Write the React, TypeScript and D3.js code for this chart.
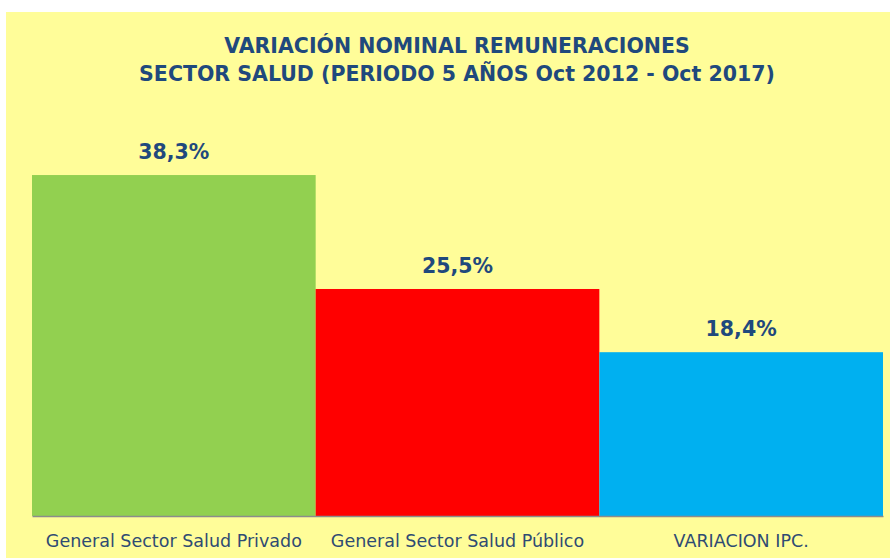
import { useRef, useEffect } from 'react';
import * as d3 from 'd3';

// Chart data
const categories = ['General Sector Salud Privado', 'General Sector Salud Público', 'VARIACION IPC.'];
const values = [38.3, 25.5, 18.4];
const barColors = ['#92D050', '#FF0000', '#00B0F0'];
const titleLines = ['VARIACIÓN NOMINAL REMUNERACIONES', 'SECTOR SALUD (PERIODO 5 AÑOS Oct 2012 - Oct 2017)'];
const yDomain = [0, 45];

const fmt = (v: number) => `${v.toFixed(1).replace('.', ',')}%`;

export default function App() {
  const svgRef = useRef<SVGSVGElement | null>(null);
  const width = 890;
  const height = 558;
  const margin = { top: 115.4, right: 7, bottom: 42, left: 32 };
  const textColor = '#1F497D';
  const font = '"DejaVu Sans", sans-serif';

  useEffect(() => {
    if (!svgRef.current) return;
    const svg = d3.select(svgRef.current);
    svg.selectAll('*').remove();

    const innerW = width - margin.left - margin.right;
    const innerH = height - margin.top - margin.bottom;

    // background panel
    svg.append('rect')
      .attr('x', 6).attr('y', 12)
      .attr('width', width - 6).attr('height', height - 12)
      .attr('fill', '#FFFD99');

    // title
    svg.append('g')
      .selectAll('text')
      .data(titleLines)
      .join('text')
      .attr('x', 457)
      .attr('y', (_, i) => 53 + i * 28)
      .attr('text-anchor', 'middle')
      .attr('font-family', font)
      .attr('font-weight', 'bold')
      .attr('font-size', 20.5)
      .attr('fill', textColor)
      .text((d) => d);

    const x = d3.scaleBand().domain(categories).range([0, innerW]).padding(0);
    const y = d3.scaleLinear().domain(yDomain).range([innerH, 0]);

    const g = svg.append('g').attr('transform', `translate(${margin.left},${margin.top})`);

    g.selectAll('rect.bar')
      .data(values)
      .join('rect')
      .attr('class', 'bar')
      .attr('x', (_, i) => x(categories[i])!)
      .attr('width', x.bandwidth())
      .attr('y', (d) => y(d))
      .attr('height', (d) => innerH - y(d))
      .attr('fill', (_, i) => barColors[i]);

    // value labels
    g.selectAll('text.val')
      .data(values)
      .join('text')
      .attr('class', 'val')
      .attr('x', (_, i) => x(categories[i])! + x.bandwidth() / 2)
      .attr('y', (d) => y(d) - 16)
      .attr('text-anchor', 'middle')
      .attr('font-family', font)
      .attr('font-weight', 'bold')
      .attr('font-size', 20.5)
      .attr('fill', textColor)
      .text((d) => fmt(d));

    // x axis
    const xAxis = g.append('g')
      .attr('transform', `translate(0,${innerH})`)
      .call(d3.axisBottom(x).tickSize(0).tickPadding(18.5));
    xAxis.select('.domain').attr('stroke', '#8C8C8C').attr('stroke-width', 1.5);
    xAxis.selectAll('text')
      .attr('font-family', font)
      .attr('font-size', 17.5)
      .attr('fill', '#2F4B73');
  }, []);

  return (
    <svg
      ref={svgRef}
      width={width}
      height={height}
      style={{ display: 'block', position: 'absolute', left: 0, top: 0, background: '#fff' }}
    />
  );
}
